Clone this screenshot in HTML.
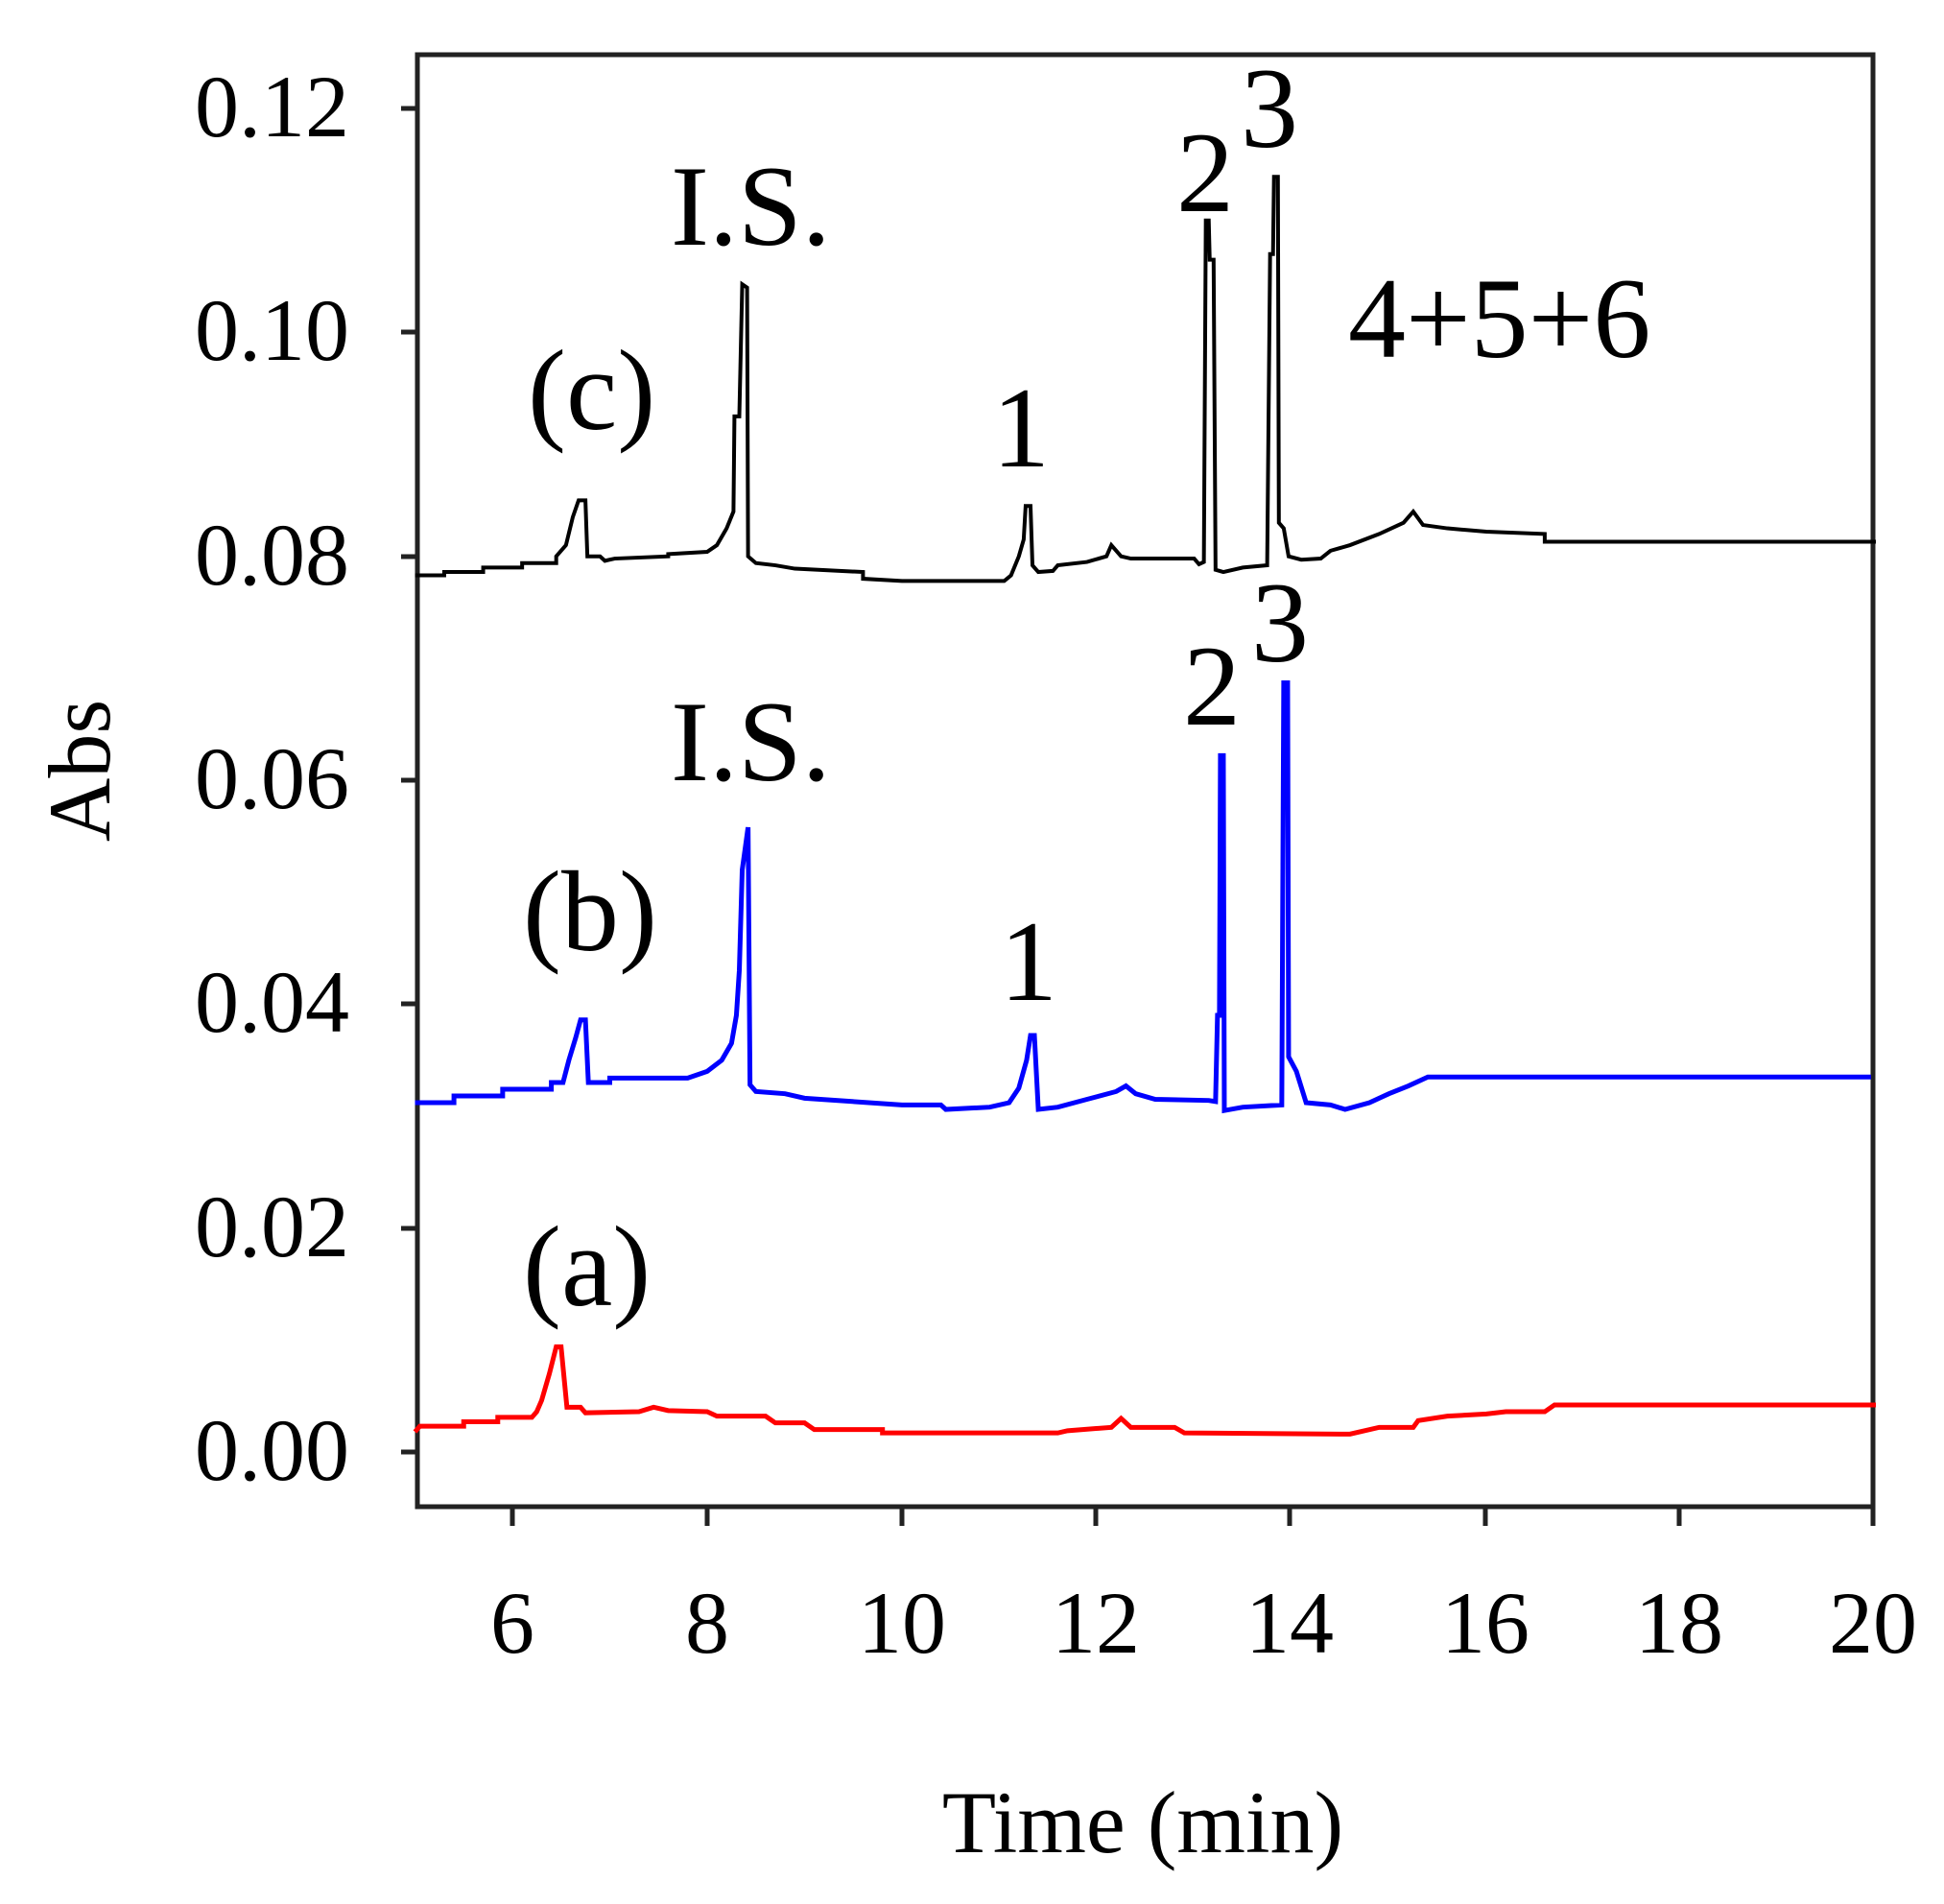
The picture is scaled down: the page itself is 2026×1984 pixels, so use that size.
<!DOCTYPE html>
<html><head><meta charset="utf-8"><style>
html,body{margin:0;padding:0;background:#fff;}
svg{display:block;}
text{font-family:"Liberation Serif",serif;font-size:92px;fill:#000;}
.a{font-size:120px;}
</style></head><body>
<svg width="2026" height="1984" viewBox="0 0 2026 1984" xmlns="http://www.w3.org/2000/svg">
<rect width="2026" height="1984" fill="#fff"/>
<rect x="435" y="57" width="1517" height="1513" fill="none" stroke="#222" stroke-width="5"/>
<g stroke="#222" stroke-width="5">
<line x1="418" y1="113" x2="435" y2="113"/>
<line x1="418" y1="346" x2="435" y2="346"/>
<line x1="418" y1="580" x2="435" y2="580"/>
<line x1="418" y1="813" x2="435" y2="813"/>
<line x1="418" y1="1046" x2="435" y2="1046"/>
<line x1="418" y1="1280" x2="435" y2="1280"/>
<line x1="418" y1="1513" x2="435" y2="1513"/>
<line x1="534" y1="1570" x2="534" y2="1590"/>
<line x1="737" y1="1570" x2="737" y2="1590"/>
<line x1="940" y1="1570" x2="940" y2="1590"/>
<line x1="1142" y1="1570" x2="1142" y2="1590"/>
<line x1="1344" y1="1570" x2="1344" y2="1590"/>
<line x1="1548" y1="1570" x2="1548" y2="1590"/>
<line x1="1750" y1="1570" x2="1750" y2="1590"/>
<line x1="1952" y1="1570" x2="1952" y2="1590"/>
</g>
<g text-anchor="end">
<text x="364" y="142">0.12</text>
<text x="364" y="375">0.10</text>
<text x="364" y="609">0.08</text>
<text x="364" y="842">0.06</text>
<text x="364" y="1075">0.04</text>
<text x="364" y="1309">0.02</text>
<text x="364" y="1542">0.00</text>
</g>
<g text-anchor="middle">
<text x="534" y="1722">6</text>
<text x="737" y="1722">8</text>
<text x="940" y="1722">10</text>
<text x="1142" y="1722">12</text>
<text x="1344" y="1722">14</text>
<text x="1548" y="1722">16</text>
<text x="1750" y="1722">18</text>
<text x="1952" y="1722">20</text>
<text x="1191" y="1930">Time (min)</text>
<text transform="translate(114,803) rotate(-90)">Abs</text>
</g>
<text class="a" x="699" y="255">I.S.</text>
<text class="a" x="550" y="447">(c)</text>
<text class="a" x="1064" y="486" text-anchor="middle">1</text>
<text class="a" x="1256" y="220" text-anchor="middle">2</text>
<text class="a" x="1323" y="153" text-anchor="middle">3</text>
<text class="a" x="1405" y="372">4+5+6</text>
<text class="a" x="699" y="813">I.S.</text>
<text class="a" x="545" y="990">(b)</text>
<text class="a" x="1072" y="1042" text-anchor="middle">1</text>
<text class="a" x="1263" y="755" text-anchor="middle">2</text>
<text class="a" x="1334" y="689" text-anchor="middle">3</text>
<text class="a" x="545" y="1360">(a)</text>
<g transform="matrix(101.5 0 0 -11.666 -75 1513)" fill="none" stroke-linejoin="miter">
<polyline vector-effect="non-scaling-stroke" stroke="#000" stroke-width="4" points="
5,78.3 5.3,78.3 5.3,78.6 5.7,78.6 5.7,79 6.1,79 6.1,79.4 6.45,79.4 6.45,80 6.55,81 6.62,83.5 6.68,85 6.75,85 6.77,80 6.9,80 6.95,79.6 7.05,79.8 7.6,80 7.6,80.2 8.0,80.4 8.1,81 8.2,82.5 8.27,84 8.28,92.5 8.33,92.5 8.36,104.3 8.41,104 8.42,80 8.5,79.4 8.7,79.2 8.9,78.9 9.6,78.6 9.6,78 10.0,77.8 11.05,77.8 11.12,78.3 11.2,80 11.25,81.5 11.27,84.5 11.32,84.5 11.34,79.2 11.4,78.6 11.55,78.7 11.6,79.2 11.9,79.5 12.1,80 12.15,81 12.25,80 12.35,79.8 13.0,79.8 13.05,79.3 13.1,79.5 13.12,110 13.15,110 13.16,106.5 13.2,106.5 13.22,78.8 13.3,78.6 13.5,79 13.75,79.2 13.78,107 13.81,107 13.82,113.9 13.86,113.9 13.87,83 13.92,82.5 13.97,80 14.1,79.7 14.3,79.8 14.4,80.5 14.6,81 14.9,82 15.15,83 15.25,84 15.35,82.8 15.6,82.5 16.0,82.2 16.6,82 16.6,81.3 20,81.3"/>
<polyline vector-effect="non-scaling-stroke" stroke="#0000ff" stroke-width="5" points="
5,31.2 5.4,31.2 5.4,31.8 5.9,31.8 5.9,32.4 6.4,32.4 6.4,33 6.52,33 6.58,35 6.65,37 6.7,38.6 6.75,38.6 6.78,33 7.0,33 7.0,33.4 7.8,33.4 8.0,34 8.15,35 8.25,36.5 8.3,39 8.33,43 8.36,52 8.42,55.8 8.44,32.8 8.5,32.2 8.8,32 9.0,31.6 10.0,31 10.4,31 10.45,30.6 10.9,30.8 11.1,31.2 11.2,32.5 11.28,35 11.32,37.2 11.36,37.2 11.4,30.6 11.6,30.8 11.9,31.5 12.2,32.2 12.3,32.7 12.4,32 12.6,31.5 13.15,31.4 13.22,31.3 13.24,39 13.26,39 13.27,62.2 13.3,62.2 13.31,30.5 13.5,30.8 13.9,31 13.92,68.7 13.96,68.7 13.97,35.3 14.05,34 14.15,31.2 14.4,31 14.55,30.6 14.8,31.2 15.0,32 15.2,32.7 15.4,33.5 19.95,33.5"/>
<polyline vector-effect="non-scaling-stroke" stroke="#ff0000" stroke-width="5" points="
5,1.8 5.05,2.3 5.5,2.3 5.5,2.7 5.85,2.7 5.85,3.1 6.2,3.1 6.25,3.6 6.3,4.6 6.38,7 6.45,9.4 6.5,9.4 6.56,4 6.7,4 6.75,3.5 7.3,3.6 7.45,4 7.6,3.7 8.0,3.6 8.1,3.2 8.6,3.2 8.7,2.6 9.0,2.6 9.1,2 9.8,2 9.8,1.7 11.6,1.7 11.7,1.9 12.15,2.2 12.25,3 12.35,2.2 12.8,2.2 12.9,1.7 14.5,1.6 14.6,1.6 14.9,2.2 15.25,2.2 15.3,2.8 15.6,3.2 16.0,3.4 16.2,3.6 16.6,3.6 16.7,4.2 20,4.2"/>
</g>
</svg>
</body></html>
